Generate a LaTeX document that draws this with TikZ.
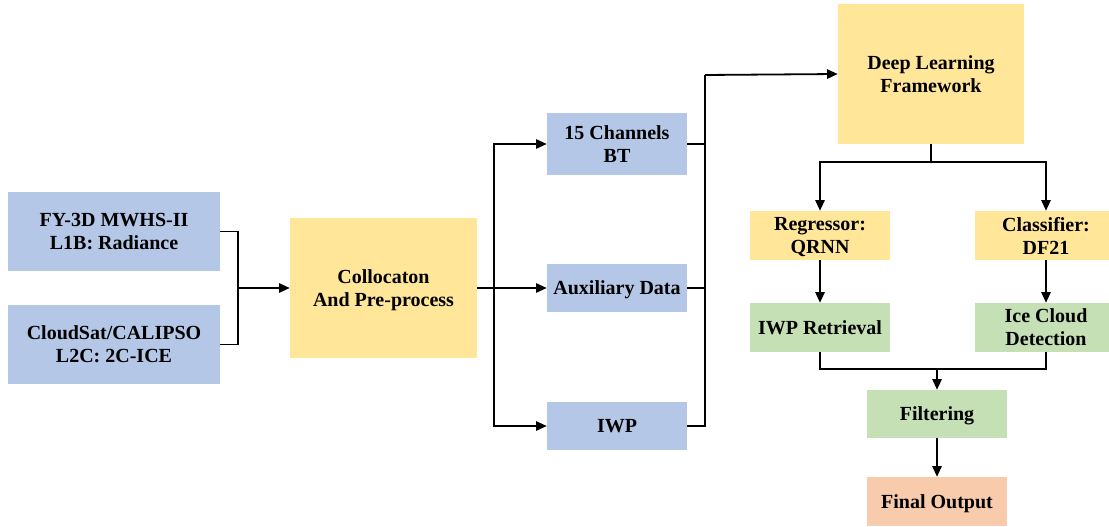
\documentclass[tikz,border=0pt]{standalone}
\usepackage{fontspec}
\setmainfont{Liberation Serif}
\usetikzlibrary{arrows.meta}
\definecolor{boxblue}{HTML}{B4C7E7}
\definecolor{boxyellow}{HTML}{FFE699}
\definecolor{boxgreen}{HTML}{C5E0B4}
\definecolor{boxpeach}{HTML}{F8CBAD}
\tikzset{
  blk/.style={draw=none, inner sep=0pt, align=center, text depth=0pt,
    font=\fontsize{15}{17.25}\selectfont\bfseries},
  bluebox/.style={blk, fill=boxblue},
  yellowbox/.style={blk, fill=boxyellow},
  greenbox/.style={blk, fill=boxgreen},
  peachbox/.style={blk, fill=boxpeach},
  conn/.style={line width=1.35pt, black},
  arr/.style={conn, -{Triangle[length=8pt,width=7pt]}}
}
\begin{document}
\begin{tikzpicture}[x=0.75pt,y=-0.75pt]
\useasboundingbox (0,0) rectangle (1109,527);

% inputs
\node[bluebox, minimum width=159pt, minimum height=59.25pt] (fy) at (114,231.5) {FY-3D MWHS-II\\L1B: Radiance};
\node[bluebox, minimum width=159pt, minimum height=59.25pt] (cs) at (114,344.5) {CloudSat/CALIPSO\\L2C: 2C-ICE};

% preprocessing
\node[yellowbox, minimum width=140.25pt, minimum height=105pt] (col) at (383.5,288) {Collocaton\\And Pre-process};

% data products
\node[bluebox, minimum width=105pt, minimum height=46.5pt] (bt) at (617,144) {15 Channels\\BT};
\node[bluebox, minimum width=105pt, minimum height=36pt] (aux) at (617,288) {Auxiliary Data};
\node[bluebox, minimum width=105pt, minimum height=36pt] (iwp) at (617,426) {IWP};

% model
\node[yellowbox, minimum width=139.5pt, minimum height=105pt] (dl) at (931,74) {Deep Learning\\Framework};
\node[yellowbox, minimum width=105pt, minimum height=36.75pt] (reg) at (820,235.5) {Regressor:\\QRNN};
\node[yellowbox, minimum width=106.5pt, minimum height=36.75pt] (cls) at (1046,235.5) {Classifier:\\DF21};

% results
\node[greenbox, minimum width=105pt, minimum height=36.75pt] (ret) at (820,327.5) {IWP Retrieval};
\node[greenbox, minimum width=106.5pt, minimum height=36.75pt] (ice) at (1046,327.5) {Ice Cloud\\Detection};
\node[greenbox, minimum width=105pt, minimum height=36pt] (filt) at (937,414) {Filtering};
\node[peachbox, minimum width=105pt, minimum height=36.75pt] (out) at (937,501.5) {Final Output};

% junction points
\coordinate (j1) at (238,288);
\coordinate (j2) at (494,288);
\coordinate (j3) at (705,75);
\coordinate (j4) at (931,162);
\coordinate (j5) at (937,369);

% connectors
\draw[conn] (fy.east) -| (j1);
\draw[conn] (cs.east) -| (j1);
\draw[arr] (j1) -- (col.west);

\draw[conn] (col.east) -- (j2);
\draw[arr] (j2) |- (bt.west);
\draw[arr] (j2) -- (aux.west);
\draw[arr] (j2) |- (iwp.west);

\draw[conn] (bt.east) -| (j3);
\draw[conn] (aux.east) -| (j3);
\draw[conn] (iwp.east) -| (j3);
\draw[arr] (j3) -- (dl.west);

\draw[conn] (dl.south) -- (j4);
\draw[arr] (j4) -| (reg.north);
\draw[arr] (j4) -| (cls.north);

\draw[arr] (reg.south) -- (ret.north);
\draw[arr] (cls.south) -- (ice.north);

\draw[conn] (ret.south) |- (j5);
\draw[conn] (ice.south) |- (j5);
\draw[arr] (j5) -- (filt.north);
\draw[arr] (filt.south) -- (out.north);
\end{tikzpicture}
\end{document}
